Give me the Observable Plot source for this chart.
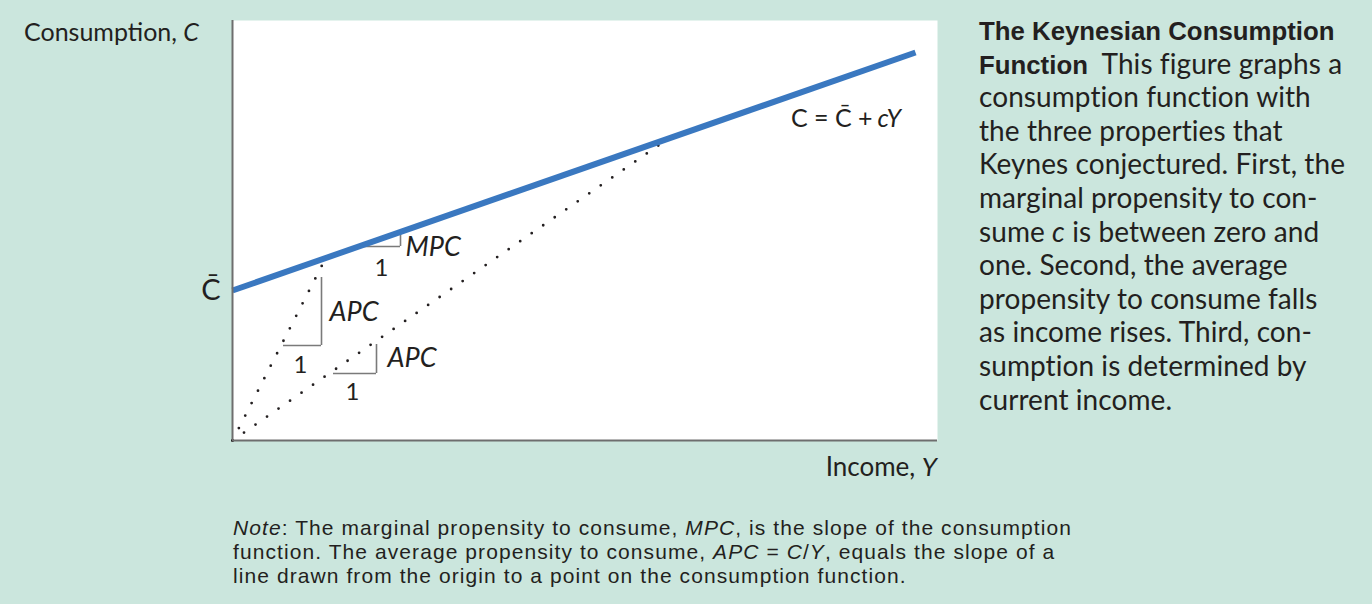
<!DOCTYPE html>
<html><head><meta charset="utf-8">
<script src="https://cdn.jsdelivr.net/npm/d3@7"></script>
<script src="https://cdn.jsdelivr.net/npm/@observablehq/plot@0.6"></script>
<style>
html,body{margin:0;padding:0;background:#cbe6dd;}
#wrap{position:relative;width:1372px;height:604px;background:#cbe6dd;overflow:hidden;font-family:Lato,"Open Sans",sans-serif;color:#231f20;}
#chart{position:absolute;left:0;top:0;}
.lab{position:absolute;white-space:nowrap;font-size:26px;line-height:1;}
#side{position:absolute;left:979px;top:13px;font-size:28px;line-height:33.6px;white-space:nowrap;font-family:Lato,"Open Sans",sans-serif;}
#side b{font-family:"Liberation Sans",Arial,sans-serif;font-weight:bold;font-size:25.8px;line-height:0;letter-spacing:0;}
#note{position:absolute;left:233px;top:516px;font-size:21px;line-height:24px;white-space:nowrap;font-family:"Liberation Sans",Arial,sans-serif;}
#note span.ln, #side span.ln{display:inline-block;}
</style></head>
<body>
<div id="wrap">
  <div id="chart"></div>
  <div class="lab" style="left:24px;top:19px;font-size:25px;">Consumption, <i>C</i></div>
  <div class="lab" style="right:435px;top:453px;">Income, <i>Y</i></div>
  <div id="side"><b>The Keynesian Consumption<br>Function</b>&nbsp; This figure graphs a<br>consumption function with<br>the three properties that<br><span class="ln" id="sideRef">Keynes conjectured. First, the</span><br>marginal propensity to con-<br>sume <i>c</i> is between zero and<br>one. Second, the average<br>propensity to consume falls<br>as income rises. Third, con-<br>sumption is determined by<br>current income.</div>
  <div id="note"><span class="ln" id="noteRef"><i>Note</i>: The marginal propensity to consume, <i>MPC</i>, is the slope of the consumption</span><br>function. The average propensity to consume, <i>APC</i> = <i>C</i>/<i>Y</i>, equals the slope of a<br>line drawn from the origin to a point on the consumption function.</div>
</div>
<script>
// Consumption function C = Cbar + cY (endpoints)
const incomeY = [0, 683];
const consumptionC = [150, 388];
const cBar = 150;

// Dotted rays from the origin to points on the consumption function
const rayId = ["low", "low", "high", "high"];
const rayY = [0, 92, 0, 433];
const rayC = [0, 180, 0, 300];

// Slope triangles: horizontal leg (x1..x2 at y), vertical leg (at x2, y..yTop)
const triName = ["MPC", "APC1", "APC2"];
const triX1 = [126, 51, 101];
const triX2 = [168, 89, 144];
const triY = [194, 95, 67];
const triYTop = [208, 163, 96];

// Triangle labels
const slopeText = ["MPC", "APC", "APC"];
const slopeX = [173, 97, 155];
const slopeY = [193, 128, 82];
const oneText = ["1", "1", "1"];
const oneX = [149, 68, 120];
const oneY = [172, 75, 48];

// Equation label
const eqMain = ["C = C\u0304 +"];
const eqItal = ["cY"];
const eqX = [640, 645];
const eqY = [322];

const consumption = incomeY.map((Y, i) => ({Y, C: consumptionC[i]}));
const rays = rayId.map((id, i) => ({id, Y: rayY[i], C: rayC[i]}));
const tris = triName.map((name, i) => ({name, x1: triX1[i], x2: triX2[i], y: triY[i], yTop: triYTop[i]}));
const slopes = slopeText.map((t, i) => ({t, x: slopeX[i], y: slopeY[i]}));
const ones = oneText.map((t, i) => ({t, x: oneX[i], y: oneY[i]}));

const chart = Plot.plot({
  width: 960, height: 480,
  marginLeft: 232, marginRight: 23, marginTop: 20, marginBottom: 40,
  x: {domain: [0, 705], axis: null},
  y: {domain: [0, 420], axis: null},
  style: {background: "transparent", fontFamily: "Lato, 'Open Sans', sans-serif", color: "#231f20", overflow: "visible"},
  marks: [
    Plot.frame({fill: "white", stroke: null}),
    Plot.axisY([cBar], {tickSize: 0, tickPadding: 12, tickFormat: () => "C\u0304", fontSize: 29, label: null}),
    Plot.line(rays, {x: "Y", y: "C", z: "id", stroke: "#231f20", strokeWidth: 2.8, strokeDasharray: "0 14", strokeLinecap: "round"}),
    Plot.ruleY(tris, {x1: "x1", x2: "x2", y: "y", stroke: "#7a7a7a", strokeWidth: 1.6}),
    Plot.ruleX(tris, {x: "x2", y1: "y", y2: "yTop", stroke: "#7a7a7a", strokeWidth: 1.6}),
    Plot.line(consumption, {x: "Y", y: "C", stroke: "#3a78c0", strokeWidth: 6, strokeLinecap: "butt"}),
    Plot.ruleX([0], {stroke: "#6e6e6e", strokeWidth: 2}),
    Plot.ruleY([0], {stroke: "#6e6e6e", strokeWidth: 2}),
    Plot.text(slopes, {x: "x", y: "y", text: "t", textAnchor: "start", fontStyle: "italic", fontSize: 27, fill: "#231f20"}),
    Plot.text(ones, {x: "x", y: "y", text: "t", fontSize: 24, fill: "#231f20"}),
    Plot.text(eqMain, {x: eqX[0], y: eqY[0], text: d => d, textAnchor: "end", fontSize: 25, fill: "#231f20"}),
    Plot.text(eqItal, {x: eqX[1], y: eqY[0], text: d => d, textAnchor: "start", fontStyle: "italic", fontSize: 25, fill: "#231f20"})
  ]
});
document.getElementById("chart").appendChild(chart);

// Fit text block widths to the reference line lengths via letter spacing
function fit(boxId, refId, target) {
  const box = document.getElementById(boxId), ref = document.getElementById(refId);
  box.style.letterSpacing = "0px";
  const w = ref.getBoundingClientRect().width;
  const n = ref.textContent.length;
  box.style.letterSpacing = ((target - w) / n).toFixed(3) + "px";
}
function fitAll() { fit("note", "noteRef", 839); fit("side", "sideRef", 366); }
fitAll();
if (document.fonts && document.fonts.ready) document.fonts.ready.then(fitAll);
</script>
</body></html>
